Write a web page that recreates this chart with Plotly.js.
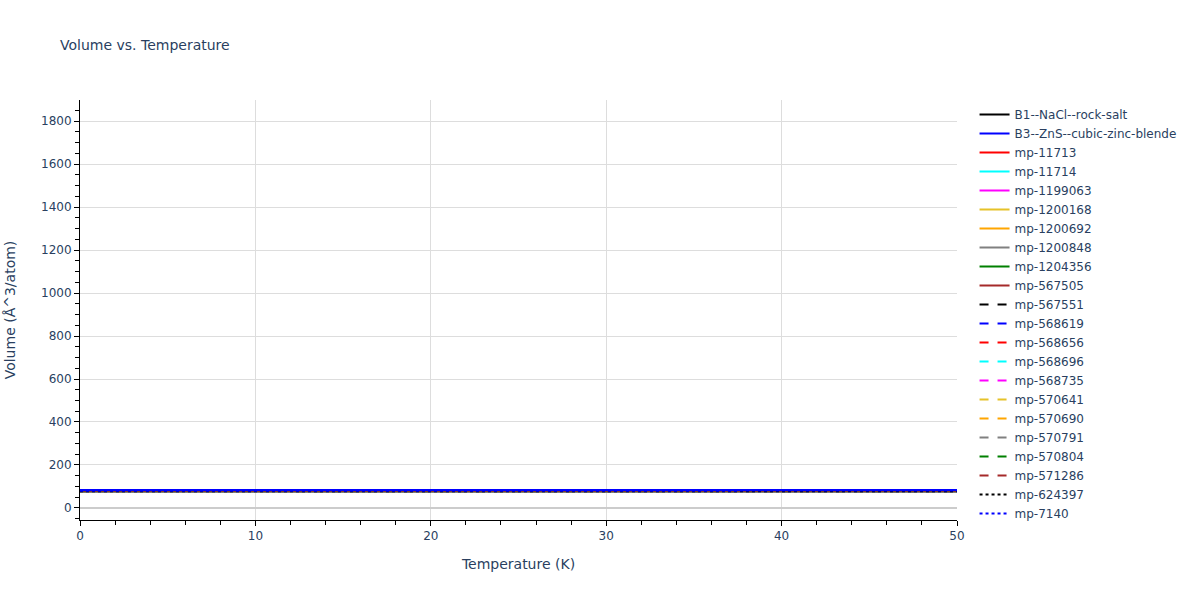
<!DOCTYPE html>
<html>
<head>
<meta charset="utf-8">
<script src="https://cdn.plot.ly/plotly-3.0.1.min.js"></script>
<style>
  body { margin: 0; }
  #chart { width: 1200px; height: 600px; }
</style>
</head>
<body>
<div id="chart"></div>
<script>
// temperatures (K)
var temps = [0, 10, 20, 30, 40, 50];

var names = [
  'B1--NaCl--rock-salt', 'B3--ZnS--cubic-zinc-blende', 'mp-11713', 'mp-11714',
  'mp-1199063', 'mp-1200168', 'mp-1200692', 'mp-1200848', 'mp-1204356',
  'mp-567505', 'mp-567551', 'mp-568619', 'mp-568656', 'mp-568696',
  'mp-568735', 'mp-570641', 'mp-570690', 'mp-570791', 'mp-570804',
  'mp-571286', 'mp-624397', 'mp-7140'
];

var colors = [
  'black', 'blue', 'red', 'cyan', 'magenta', '#e6c229', 'orange', 'gray', 'green', 'brown',
  'black', 'blue', 'red', 'cyan', 'magenta', '#e6c229', 'orange', 'gray', 'green', 'brown',
  'black', 'blue'
];

var dashes = [
  'solid', 'solid', 'solid', 'solid', 'solid', 'solid', 'solid', 'solid', 'solid', 'solid',
  'dash', 'dash', 'dash', 'dash', 'dash', 'dash', 'dash', 'dash', 'dash', 'dash',
  'dot', 'dot'
];

// volume (Å^3/atom) per structure, at each temperature above
var volumes = [
  [78.20, 78.20, 78.21, 78.22, 78.24, 78.26],
  [84.00, 84.00, 84.01, 84.03, 84.05, 84.08],
  [79.00, 79.00, 79.01, 79.02, 79.04, 79.06],
  [79.30, 79.30, 79.31, 79.32, 79.34, 79.36],
  [80.10, 80.10, 80.11, 80.12, 80.14, 80.17],
  [80.40, 80.40, 80.41, 80.42, 80.44, 80.47],
  [80.00, 80.00, 80.01, 80.02, 80.04, 80.06],
  [74.50, 74.50, 74.51, 74.52, 74.54, 74.56],
  [79.60, 79.60, 79.61, 79.62, 79.64, 79.66],
  [79.80, 79.80, 79.81, 79.82, 79.84, 79.86],
  [77.80, 77.80, 77.81, 77.82, 77.84, 77.86],
  [80.50, 80.50, 80.51, 80.53, 80.55, 80.58],
  [79.10, 79.10, 79.11, 79.12, 79.14, 79.16],
  [79.50, 79.50, 79.51, 79.52, 79.54, 79.56],
  [80.20, 80.20, 80.21, 80.22, 80.24, 80.26],
  [79.90, 79.90, 79.91, 79.92, 79.94, 79.96],
  [80.30, 80.30, 80.31, 80.32, 80.34, 80.36],
  [76.00, 76.00, 76.01, 76.02, 76.04, 76.06],
  [79.40, 79.40, 79.41, 79.42, 79.44, 79.46],
  [79.70, 79.70, 79.71, 79.72, 79.74, 79.76],
  [77.50, 77.50, 77.51, 77.52, 77.54, 77.56],
  [80.60, 80.60, 80.61, 80.63, 80.65, 80.68]
];

var data = names.map(function (name, i) {
  return {
    type: 'scatter',
    mode: 'lines',
    name: name,
    x: temps,
    y: volumes[i],
    line: { color: colors[i], dash: dashes[i], width: 2 }
  };
});

// draw B3 last so its solid blue sits on top, legend order unchanged
var b3 = data.splice(1, 1)[0];
b3.legendrank = 1;
data.forEach(function (t, i) { t.legendrank = i < 1 ? 0 : i + 2; });
data.push(b3);

var layout = {
  width: 1200,
  height: 600,
  template: 'plotly_white',
  font: { family: 'Verdana, "DejaVu Sans", sans-serif', size: 12, color: '#2a3f5f' },
  title: { text: 'Volume vs. Temperature', x: 0.05, font: { size: 14 } },
  margin: { l: 80, r: 243, t: 100, b: 80 },
  paper_bgcolor: 'white',
  plot_bgcolor: 'white',
  xaxis: {
    title: { text: 'Temperature (K)', font: { size: 14 }, standoff: 16 },
    range: [0, 50],
    dtick: 10,
    showline: true,
    linecolor: 'black',
    ticks: 'outside',
    tickcolor: 'black',
    showgrid: true,
    gridcolor: '#dddddd',
    zeroline: false,
    minor: { dtick: 2, ticks: 'outside', tickcolor: 'black', ticklen: 4, showgrid: false }
  },
  yaxis: {
    title: { text: 'Volume (Å^3/atom)', font: { size: 14 }, standoff: 22 },
    range: [-56, 1898],
    dtick: 200,
    showline: true,
    linecolor: 'black',
    ticks: 'outside',
    tickcolor: 'black',
    showgrid: true,
    gridcolor: '#dddddd',
    zeroline: true,
    zerolinecolor: '#cccccc',
    zerolinewidth: 2,
    minor: { dtick: 50, ticks: 'outside', tickcolor: 'black', ticklen: 4, showgrid: false }
  },
  legend: { x: 1.02, y: 1, font: { size: 12 }, maxheight: 600 },
  showlegend: true
};

Plotly.newPlot('chart', data, layout, { displayModeBar: false });
</script>
</body>
</html>
